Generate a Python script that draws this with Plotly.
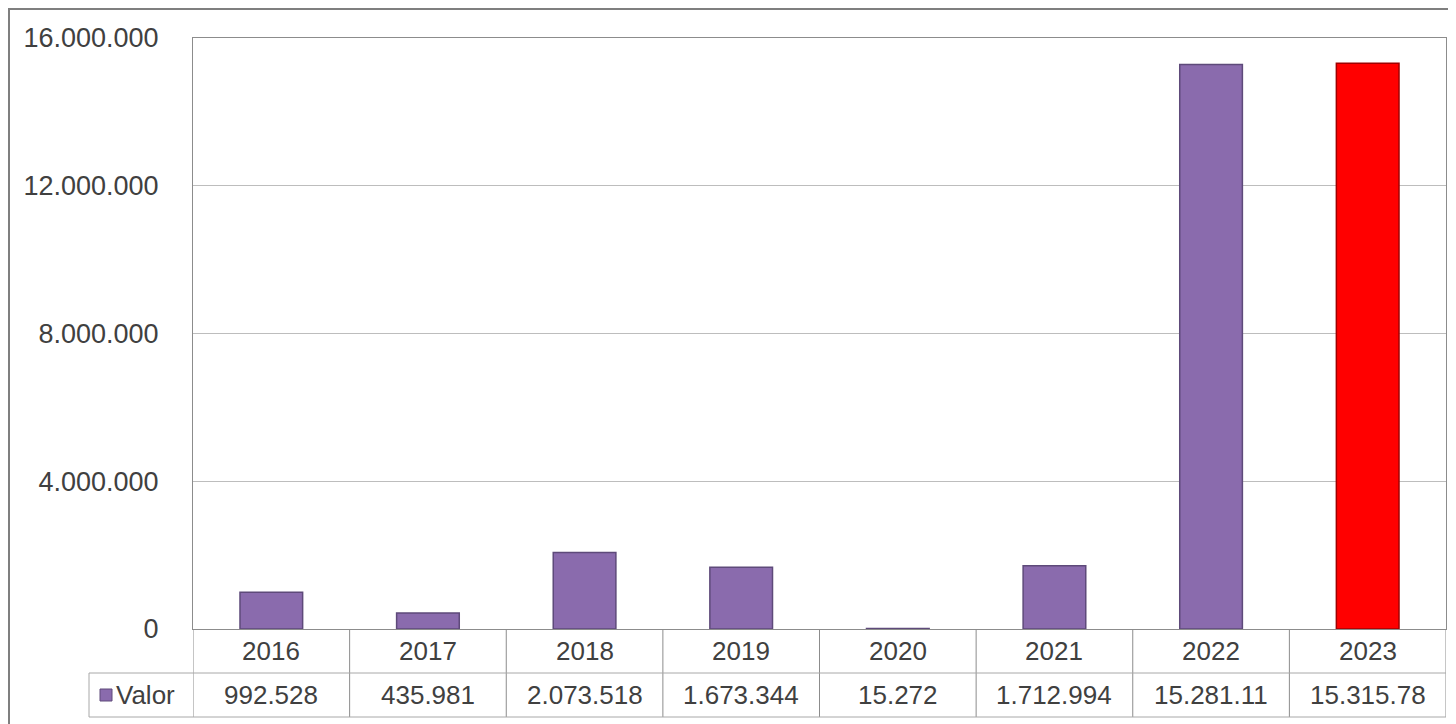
import plotly.graph_objects as go

# ---- data ----
years = ["2016", "2017", "2018", "2019", "2020", "2021", "2022", "2023"]
values = [992528, 435981, 2073518, 1673344, 15272, 1712994, 15281110, 15315780]
table_labels = ["992.528", "435.981", "2.073.518", "1.673.344", "15.272",
                "1.712.994", "15.281.11", "15.315.78"]
series_name = "Valor"
y_ticks = [0, 4000000, 8000000, 12000000, 16000000]

# ---- styling ----
OFF = 8  # page body margin
W, H = 1456 - OFF, 724 - OFF
ML, MR, MT, MB = 193 - OFF, 10, 38 - OFF, 724 - 629
PW, PH = W - ML - MR, H - MT - MB
FONT = "Liberation Sans, Arial, sans-serif"
TXT = "#404040"
GRID = "#BDBDBD"
LINE = "#8C8C8C"
PURPLE = "#8A6BAD"
PURPLE_EDGE = "#5E4A7A"

def py(page_y):  # page pixel y -> paper y
    return (629 - page_y) / PH

def px(page_x):  # page pixel x -> paper x
    return (page_x - 193) / PW

n = len(years)
colors = [PURPLE] * (n - 1) + ["#FF0000"]
edges = [PURPLE_EDGE] * (n - 1) + ["#A00000"]

fig = go.Figure()
fig.add_trace(go.Bar(
    x=list(range(n)), y=values, name=series_name,
    marker=dict(color=colors, line=dict(color=edges, width=1.5)),
    width=0.4, showlegend=False, hoverinfo="x+y",
))

row1_y = py(651)
row_div = py(673)
row2_y = py(695)
bottom = py(717)

shapes = []
annotations = []
# table vertical dividers
for i in range(n + 1):
    shapes.append(dict(type="line", xref="x", yref="paper", x0=i - 0.5, x1=i - 0.5,
                       y0=0, y1=bottom, line=dict(color=LINE, width=1)))
left_cell = px(89)
for yy in (row_div, bottom):
    shapes.append(dict(type="line", xref="paper", yref="paper", x0=left_cell, x1=1,
                       y0=yy, y1=yy, line=dict(color="#A8A8A8", width=1)))
shapes.append(dict(type="line", xref="paper", yref="paper", x0=left_cell, x1=left_cell,
                   y0=row_div, y1=bottom, line=dict(color="#A8A8A8", width=1)))
# legend key square
shapes.append(dict(type="rect", xref="paper", yref="paper",
                   x0=px(100), x1=px(112), y0=py(701), y1=py(689),
                   fillcolor=PURPLE, line=dict(color=PURPLE_EDGE, width=1)))
# outer chart border
shapes.append(dict(type="rect", xref="paper", yref="paper",
                   x0=px(9), x1=px(1462), y0=py(740), y1=py(9),
                   line=dict(color="#7F7F7F", width=2), fillcolor="rgba(0,0,0,0)",
                   layer="below"))

for i, (yr, lab) in enumerate(zip(years, table_labels)):
    annotations.append(dict(x=i, y=row1_y, xref="x", yref="paper", text=yr,
                            showarrow=False, xanchor="center", yanchor="middle",
                            font=dict(family=FONT, size=26, color=TXT)))
    annotations.append(dict(x=i, y=row2_y, xref="x", yref="paper", text=lab,
                            showarrow=False, xanchor="center", yanchor="middle",
                            font=dict(family=FONT, size=26, color=TXT)))
annotations.append(dict(x=px(114), y=row2_y, xref="paper", yref="paper",
                        text=series_name, showarrow=False, xanchor="left", yanchor="middle",
                        font=dict(family=FONT, size=26, color=TXT)))

fig.update_layout(
    width=W, height=H,
    margin=dict(l=ML, r=MR, t=MT, b=MB),
    paper_bgcolor="white", plot_bgcolor="white",
    separators=",.",
    font=dict(family=FONT, size=26, color=TXT),
    bargap=0.6,
    shapes=shapes, annotations=annotations,
    xaxis=dict(range=[-0.5, n - 0.5], showticklabels=False, showgrid=False,
               zeroline=False, showline=True, linecolor=LINE, linewidth=1, mirror=True,
               ticks=""),
    yaxis=dict(range=[0, 16000000], tickvals=y_ticks, tickformat=",d",
               showgrid=True, gridcolor=GRID, gridwidth=1, zeroline=False,
               showline=True, linecolor=LINE, linewidth=1, mirror=True,
               ticks="outside", ticklen=28, tickcolor="rgba(0,0,0,0)",
               tickfont=dict(family=FONT, size=27, color=TXT)),
)

fig.write_html("out.html")
